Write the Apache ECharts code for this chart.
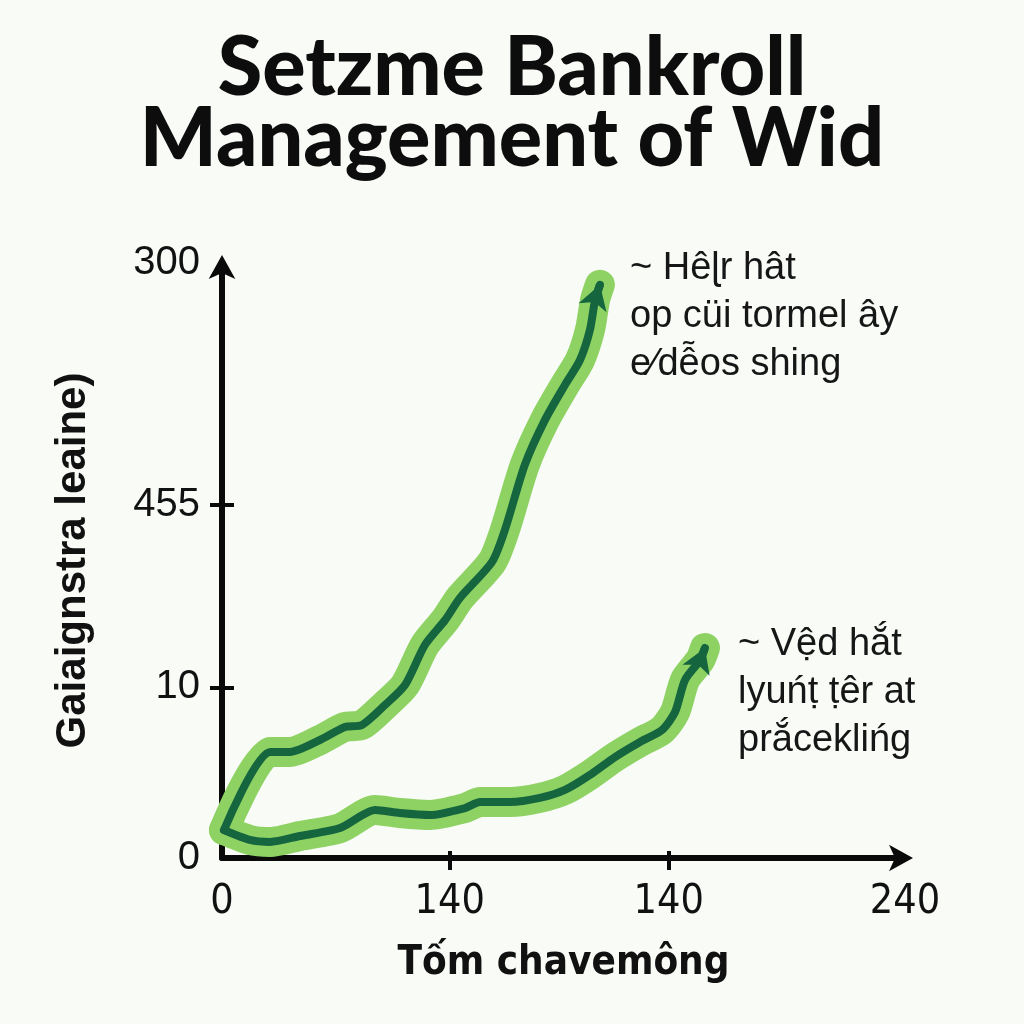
<!DOCTYPE html>
<html>
<head>
<meta charset="utf-8">
<script src="https://cdn.jsdelivr.net/npm/echarts@6/dist/echarts.min.js"></script>
<style>
html,body{margin:0;padding:0;background:#f9fbf7;}
#c{width:1024px;height:1024px;}
</style>
</head>
<body>
<div id="c"></div>
<script>
// ---- data ----
const titleText = 'Setzme Bankroll\nManagement of Wid';
const xAxisName = 'Tốm chavemông';
const yAxisName = 'Gaiaignstra leaine)';
const xTickPos = [0, 80, 157, 240];
const xTickLabels = ['0', '140', '140', '240'];
const xTickMarks = [80, 157];
const yTickPos = [0, 86, 178, 300];
const yTickLabels = ['0', '10', '455', '300'];
const yTickMarks = [86, 178];

const upperX = [0.7, 16.9, 23.9, 34.4, 43.2, 49.2, 57.3, 64.3, 71.3, 78.4, 83.6, 94.9, 99.4, 106.4, 113.5, 120.5, 125.8, 129.3, 131.1, 132.8];
const upperY = [14.1, 53.5, 53.5, 59.5, 66.1, 67.1, 77.2, 87.2, 107.4, 120.0, 131.1, 149.3, 165.4, 198.2, 220.9, 238.5, 251.1, 266.3, 281.4, 289.0];
const lowerX = [0.7, 9.8, 16.9, 27.4, 41.5, 53.8, 62.5, 73.1, 85.4, 90.7, 101.2, 111.7, 120.5, 129.3, 138.1, 146.9, 154.6, 159.2, 162.7, 168.0, 169.7];
const lowerY = [14.1, 9.1, 8.1, 11.1, 15.1, 24.2, 22.7, 21.7, 25.2, 28.2, 28.2, 30.3, 34.3, 41.9, 50.9, 58.5, 64.5, 73.6, 89.8, 99.8, 105.9];

const upperNote = ['~ Hêɭr hât', 'op cüi tormel ây', 'e⁄dễos shing'];
const lowerNote = ['~ Vệd hắt', 'lyuńṭ ṭêr at', 'prắceklińg'];

// ---- build ----
const zip = (xs, ys) => xs.map((x, i) => [x, ys[i]]);
const upper = zip(upperX, upperY);
const lower = zip(lowerX, lowerY);
const HALO = '#8fd264';
const DARK = '#15663f';

function halo(data) {
  return {
    type: 'line', data, showSymbol: false, smooth: 0.25, silent: true,
    lineStyle: { width: 30, color: HALO, cap: 'round', join: 'round' },
    z: 2
  };
}
function core(data) {
  const n = data.length;
  return {
    type: 'line', data, showSymbol: false, smooth: 0.25, silent: true,
    lineStyle: { width: 8, color: DARK, cap: 'round', join: 'round' },
    z: 3,
    markLine: {
      silent: true, animation: false,
      symbol: ['none', 'arrow'], symbolSize: [22, 24],
      label: { show: false },
      lineStyle: { type: 'solid', width: 8, color: DARK },
      data: [[{ coord: data[n - 2] }, { coord: data[n - 1] }]]
    }
  };
}

const chart = echarts.init(document.getElementById('c'));
const labelOf = (pos, labels) => v => {
  const i = pos.findIndex(p => Math.abs(p - v) < 1e-6);
  return i >= 0 ? labels[i] : '';
};

const noteStyle = { fontFamily: 'Liberation Sans, Arial, sans-serif', fontSize: 38, fill: '#161616' };
function noteGraphics(lines, left, top, gap) {
  return lines.map((t, i) => ({
    type: 'text', left, top: top + i * gap,
    style: Object.assign({ text: t }, noteStyle)
  }));
}

chart.setOption({
  backgroundColor: '#f9fbf7',
  animation: false,
  title: {
    text: titleText, left: 'center', top: 28,
    textStyle: { fontFamily: 'Lato, Open Sans, sans-serif', fontWeight: 900, fontSize: 81, lineHeight: 71, color: '#0d0d0d' }
  },
  grid: { left: 222, right: 119, top: 263, bottom: 166 },
  xAxis: [{
    type: 'value', min: 0, max: 240, position: 'bottom',
    name: xAxisName, nameLocation: 'middle', nameGap: 86,
    nameTextStyle: { fontFamily: 'Liberation Sans Narrow, DejaVu Sans Condensed, sans-serif', fontWeight: 'bold', fontSize: 40, color: '#111' },
    axisLine: { show: true, symbol: ['none', 'arrow'], symbolSize: [20, 24], symbolOffset: [0, 8], lineStyle: { color: '#0a0a0a', width: 6 } },
    axisTick: { show: true, customValues: xTickMarks, length: 12, lineStyle: { color: '#0a0a0a', width: 4 } },
    axisLabel: { customValues: xTickPos, formatter: labelOf(xTickPos, xTickLabels), margin: 24,
      fontFamily: 'Liberation Sans Narrow, DejaVu Sans Condensed, sans-serif', fontSize: 41, color: '#111' },
    splitLine: { show: false }
  }, {
    type: 'value', min: 0, max: 240, position: 'bottom', gridIndex: 0,
    axisLine: { show: false },
    axisTick: { show: true, inside: true, customValues: xTickMarks, length: 7, lineStyle: { color: '#0a0a0a', width: 4 } },
    axisLabel: { show: false }, splitLine: { show: false }
  }],
  yAxis: [{
    type: 'value', min: 0, max: 300, position: 'left',
    name: yAxisName, nameLocation: 'middle', nameGap: 128,
    nameTextStyle: { fontFamily: 'Liberation Sans, Arial, sans-serif', fontWeight: 'bold', fontSize: 42, color: '#111' },
    axisLine: { show: true, symbol: ['none', 'arrow'], symbolSize: [20, 24], symbolOffset: [0, 8], lineStyle: { color: '#0a0a0a', width: 6 } },
    axisTick: { show: true, customValues: yTickMarks, length: 12, lineStyle: { color: '#0a0a0a', width: 4 } },
    axisLabel: { customValues: yTickPos, formatter: labelOf(yTickPos, yTickLabels), margin: 22,
      fontFamily: 'Liberation Sans, Arial, sans-serif', fontSize: 40, color: '#111' },
    splitLine: { show: false }
  }, {
    type: 'value', min: 0, max: 300, position: 'left',
    axisLine: { show: false },
    axisTick: { show: true, inside: true, customValues: yTickMarks, length: 12, lineStyle: { color: '#0a0a0a', width: 4 } },
    axisLabel: { show: false }, splitLine: { show: false }
  }],
  series: [halo(lower), halo(upper), core(lower), core(upper)],
  graphic: [].concat(noteGraphics(upperNote, 630, 250, 48), noteGraphics(lowerNote, 738, 626, 48))
});
</script>
</body>
</html>
